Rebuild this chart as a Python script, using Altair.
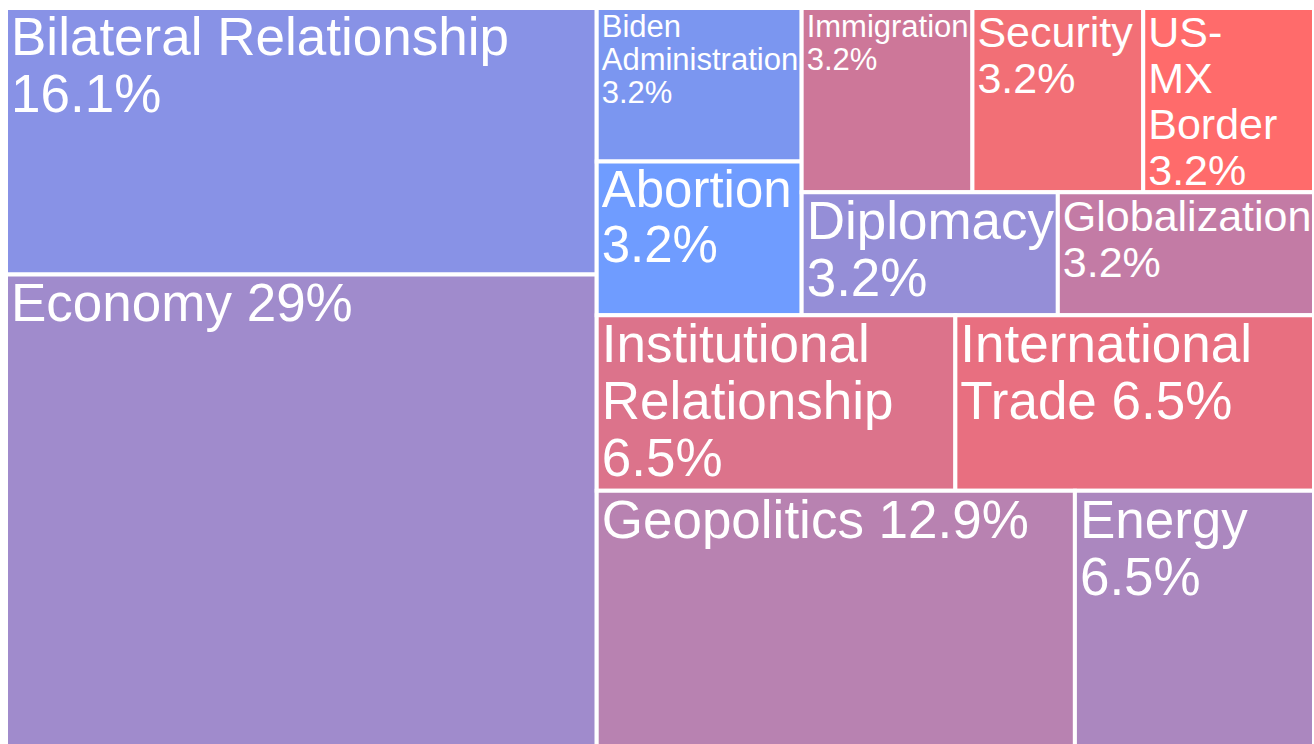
import altair as alt
import pandas as pd

# ---- data ----
categories = [
    "Bilateral Relationship", "Economy", "Biden Administration", "Abortion",
    "Immigration", "Security", "US-MX Border", "Diplomacy", "Globalization",
    "Institutional Relationship", "International Trade", "Geopolitics", "Energy",
]
# mentions (the shares shown are these over a total of 31)
mentions = [5, 9, 1, 1, 1, 1, 1, 1, 1, 2, 2, 4, 2]
share_labels = ["16.1%", "29%", "3.2%", "3.2%", "3.2%", "3.2%", "3.2%",
                "3.2%", "3.2%", "6.5%", "6.5%", "12.9%", "6.5%"]
# names as they are wrapped in the tiles (separator before the share)
wrapped_names = [
    "Bilateral Relationship\n", "Economy ", "Biden\nAdministration\n",
    "Abortion\n", "Immigration\n", "Security\n", "US-\nMX\nBorder\n",
    "Diplomacy\n", "Globalization\n", "Institutional\nRelationship\n",
    "International\nTrade ", "Geopolitics ", "Energy\n",
]

# ---- styles ----
colors = ["#8892e6", "#a08bcc", "#7b96f0", "#6f9cff", "#cd7799", "#f26f76",
          "#ff6b6b", "#958ed7", "#c37ba5", "#dc738b", "#e86f80", "#b882b1",
          "#ab87bf"]
label_size = {
    "Bilateral Relationship": 53, "Economy": 53, "Biden Administration": 31,
    "Abortion": 51, "Immigration": 31, "Security": 43, "US-MX Border": 43,
    "Diplomacy": 53, "Globalization": 43, "Institutional Relationship": 53,
    "International Trade": 53, "Geopolitics": 53, "Energy": 53,
}

# ---- treemap nesting (h = side by side, v = stacked) ----
tree = ("h", [
    ("v", [0, 1]),
    ("v", [
        ("h", [("v", [2, 3]), ("v", [("h", [4, 5, 6]), ("h", [7, 8])])]),
        ("h", [9, 10]),
        ("h", [11, 12]),
    ]),
])


def weight(node):
    if isinstance(node, int):
        return mentions[node]
    return sum(weight(k) for k in node[1])


def layout(node, x0, y0, x1, y1, out):
    if isinstance(node, int):
        out[node] = (x0, y0, x1, y1)
        return
    orient, kids = node
    total = sum(weight(k) for k in kids)
    pos = x0 if orient == "h" else y0
    for k in kids:
        f = weight(k) / total
        if orient == "h":
            nxt = pos + (x1 - x0) * f
            layout(k, pos, y0, nxt, y1, out)
        else:
            nxt = pos + (y1 - y0) * f
            layout(k, x0, pos, x1, nxt, out)
        pos = nxt


boxes = {}
layout(tree, 0.0, 0.0, 1.0, 1.0, boxes)

rows = []
for i, c in enumerate(categories):
    x0, y0, x1, y1 = boxes[i]
    rows.append({
        "cat": c, "x0": x0, "y0": y0, "x1": x1, "y1": y1,
        "label": wrapped_names[i] + share_labels[i],
        "fs": label_size[c],
    })
df = pd.DataFrame(rows)

xs = alt.Scale(domain=[0, 1])
ys = alt.Scale(domain=[0, 736 / 746], reverse=True)

base = alt.Chart(df)

rects = base.mark_rect(stroke="white", strokeWidth=4, clip=True).encode(
    x=alt.X("x0:Q", scale=xs, axis=None),
    x2="x1:Q",
    y=alt.Y("y0:Q", scale=ys, axis=None),
    y2="y1:Q",
    color=alt.Color("cat:N", scale=alt.Scale(domain=categories, range=colors),
                    legend=None),
)

layers = [rects]
for s in sorted(set(label_size.values())):
    layers.append(
        base.transform_filter(alt.datum.fs == s).mark_text(
            align="left", baseline="top", dx=5, dy=5, fontSize=s,
            lineHeight=round(s * 1.08), lineBreak="\n", color="white",
            font="Liberation Sans",
        ).encode(
            x=alt.X("x0:Q", scale=xs, axis=None),
            y=alt.Y("y0:Q", scale=ys, axis=None),
            text="label:N",
        )
    )

chart = alt.layer(*layers).properties(
    width=1308, height=736,
    padding={"left": 6, "top": 8, "right": 0, "bottom": 0},
    autosize="none", background="white",
).configure_view(stroke=None)

chart.save("out.html", embed_options={"renderer": "svg", "actions": False})
